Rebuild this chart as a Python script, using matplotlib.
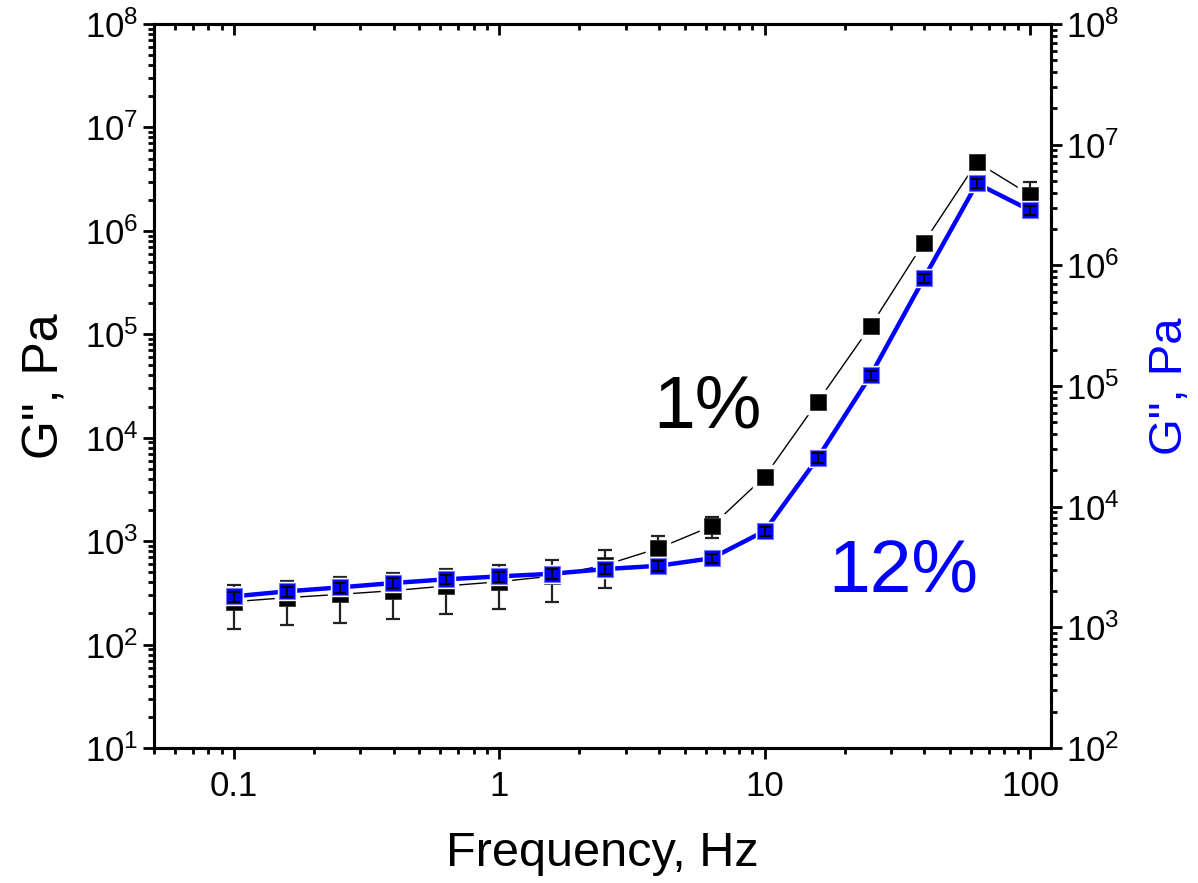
import matplotlib
matplotlib.use('Agg')
import matplotlib.pyplot as plt
from matplotlib.ticker import LogLocator, FixedLocator, NullFormatter
import numpy as np

plt.rcParams['font.family'] = ['Liberation Sans', 'DejaVu Sans']
plt.rcParams['mathtext.default'] = 'regular'

# frequency sweep, Hz
freq = [0.1, 0.158, 0.251, 0.398, 0.631, 1.0, 1.585, 2.512, 3.981, 6.31,
        10.0, 15.85, 25.12, 39.81, 63.1, 100.0]

# 1% sample (left axis)
g1 = [260, 284, 306, 332, 369, 405, 460, 589, 853, 1393,
      4207, 22300, 120500, 771000, 4.61e6, 2.23e6]
g1_err = [120, 130, 143, 157, 173, 186, 200, 240, 280, 320,
          300, 1500, 8000, 50000, 3.0e5, 7.7e5]

# 12% sample (right axis)
g12 = [1806, 1986, 2143, 2329, 2500, 2644, 2780, 3041, 3236, 3734,
       6280, 25300, 123000, 778000, 4.77e6, 2.86e6]
g12_err = [170, 190, 200, 220, 230, 250, 260, 280, 300, 340,
           560, 2300, 11000, 70000, 4.3e5, 2.6e5]

W, H = 1198, 883
fig = plt.figure(figsize=(W / 100, H / 100), dpi=100)
ax = fig.add_axes([154 / W, 1 - 748 / H, (1051 - 154) / W, 724 / H])
ax2 = ax.twinx()

# 1% series: line, white halo (gap in the line), error bars, markers
ax.plot(freq, g1, color='black', lw=1.0, zorder=1)
ax.plot(freq, g1, ls='none', marker='s', ms=17, mfc='white', mec='white', zorder=2)
ax.errorbar(freq, g1, yerr=g1_err, fmt='none', ecolor='#222222', elinewidth=1.6,
            capsize=5, capthick=1.6, zorder=3)
ax.plot(freq, g1, ls='none', marker='s', ms=11.3, mfc='black', mec='#333333',
        mew=0.6, zorder=4)

# 12% series
ax2.plot(freq, g12, color='#0000ff', lw=3.2, zorder=1)
ax2.plot(freq, g12, ls='none', marker='s', ms=13.3, mfc='white', mec='white', zorder=2)
ax2.plot(freq, g12, ls='none', marker='s', ms=11.3, mfc='#0000ff', mec='#7777ff',
         mew=0.8, zorder=3)
ax2.errorbar(freq, g12, yerr=g12_err, fmt='none', ecolor='black', elinewidth=1.4,
             capsize=4.5, capthick=1.4, zorder=4)

ax.set_xscale('log')
ax.set_yscale('log')
ax2.set_yscale('log')
ax.set_xlim(0.05, 120)
ax.set_ylim(1e1, 1e8)
ax2.set_ylim(1e2, 1e8)

xt = [0.1, 1, 10, 100]
ax.xaxis.set_major_locator(FixedLocator(xt))
ax.set_xticklabels(['0.1', '1', '10', '100'])
ax.xaxis.set_minor_locator(LogLocator(base=10, subs=np.arange(2, 10), numticks=20))
ax.xaxis.set_minor_formatter(NullFormatter())

yl = [10.0 ** k for k in range(1, 9)]
ax.yaxis.set_major_locator(FixedLocator(yl))
ax.set_yticklabels(['$10^{%d}$' % k for k in range(1, 9)])
ax.yaxis.set_minor_locator(LogLocator(base=10, subs=np.arange(2, 10), numticks=20))
ax.yaxis.set_minor_formatter(NullFormatter())

yr = [10.0 ** k for k in range(2, 9)]
ax2.yaxis.set_major_locator(FixedLocator(yr))
ax2.set_yticklabels(['$10^{%d}$' % k for k in range(2, 9)])
ax2.yaxis.set_minor_locator(LogLocator(base=10, subs=np.arange(2, 10), numticks=20))
ax2.yaxis.set_minor_formatter(NullFormatter())

for a in (ax, ax2):
    for s in a.spines.values():
        s.set_linewidth(2.2)

ax.tick_params(axis='x', which='both', direction='out', top=True, width=2.0,
               labelsize=25, pad=8)
ax.tick_params(axis='x', which='major', length=8)
ax.tick_params(axis='x', which='minor', length=4.5)
# top ticks point inward
for t in ax.xaxis.get_major_ticks() + ax.xaxis.get_minor_ticks():
    t.tick2line.set_marker(3)
ax.tick_params(axis='y', which='both', direction='out', right=False, width=2.0,
               labelsize=25, pad=3)
ax.tick_params(axis='y', which='major', length=8)
ax.tick_params(axis='y', which='minor', length=4.5)
ax2.tick_params(axis='y', which='both', direction='out', width=2.0,
                labelsize=25, pad=3)
ax2.tick_params(axis='y', which='major', length=8)
ax2.tick_params(axis='y', which='minor', length=4.5)

ax.set_xlabel('Frequency, Hz', fontsize=35, labelpad=20)
ax.set_ylabel('G", Pa', fontsize=36, labelpad=12)
ax2.set_ylabel('G", Pa', fontsize=34, color='#0000ff', labelpad=20)

fig.text(653 / W, 1 - 427 / H, '1%', fontsize=54, color='black', va='baseline')
fig.text(828 / W, 1 - 592 / H, '12%', fontsize=54, color='#0000ff', va='baseline')

fig.savefig('out.png', dpi=100)
